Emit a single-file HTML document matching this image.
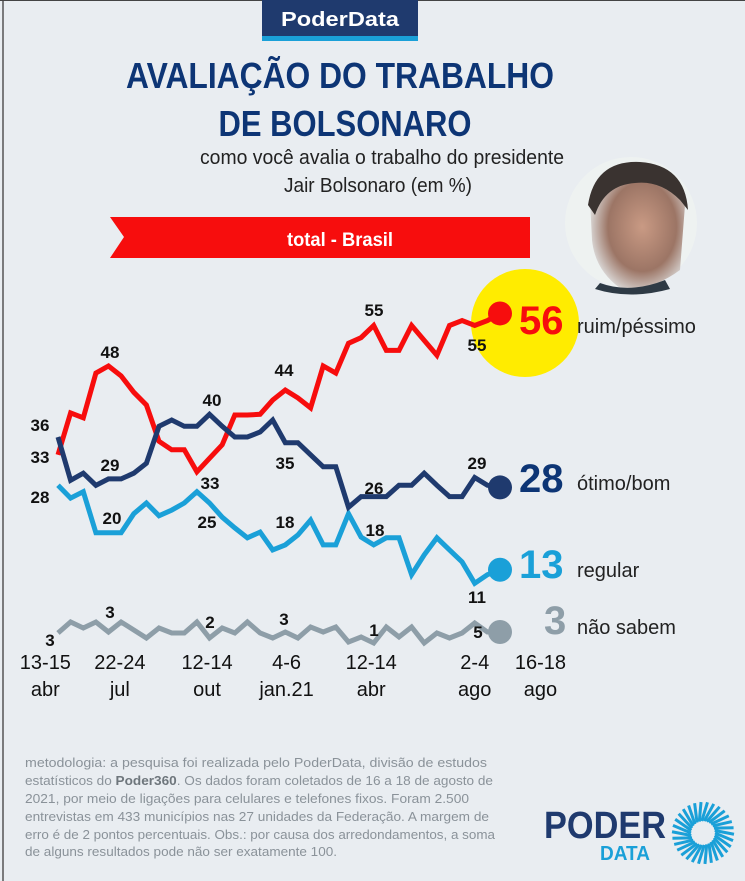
<!DOCTYPE html>
<html><head><meta charset="utf-8"><style>
html,body{margin:0;padding:0;background:#e9edf1;}
svg{display:block;}
text{font-family:"Liberation Sans",sans-serif;}
</style></head><body>
<svg id="chart" width="745" height="881" viewBox="0 0 745 881" xmlns="http://www.w3.org/2000/svg">
<rect x="0" y="0" width="745" height="881" fill="#e9edf1"/>
<line x1="3" y1="0" x2="3" y2="881" stroke="#555" stroke-width="1.5"/>
<line x1="0" y1="0.5" x2="745" y2="0.5" stroke="#444" stroke-width="1"/>
<g>
<rect x="262" y="0" width="156" height="37" fill="#1f3a6e"/>
<rect x="262" y="36" width="156" height="5" fill="#1aa0d8"/>
<text x="340" y="26" text-anchor="middle" font-size="20" font-weight="bold" fill="#fff" textLength="118" lengthAdjust="spacingAndGlyphs">PoderData</text>
</g>
<text x="340" y="88" text-anchor="middle" font-size="36" font-weight="bold" fill="#0d3575" textLength="428" lengthAdjust="spacingAndGlyphs">AVALIAÇÃO DO TRABALHO</text>
<text x="345" y="136" text-anchor="middle" font-size="36" font-weight="bold" fill="#0d3575" textLength="253" lengthAdjust="spacingAndGlyphs">DE BOLSONARO</text>
<text x="382" y="164" text-anchor="middle" font-size="20" fill="#222" textLength="364" lengthAdjust="spacingAndGlyphs">como você avalia o trabalho do presidente</text>
<text x="378" y="192" text-anchor="middle" font-size="20" fill="#222" textLength="188" lengthAdjust="spacingAndGlyphs">Jair Bolsonaro (em %)</text>
<g>
<polygon points="110,217 530,217 530,258 110,258 124,237" fill="#f70d0d"/>
<text x="340" y="246" text-anchor="middle" font-size="19" font-weight="bold" fill="#fff" textLength="106" lengthAdjust="spacingAndGlyphs">total - Brasil</text>
</g>
<g>
<defs><radialGradient id="face" cx="0.55" cy="0.5" r="0.6"><stop offset="0" stop-color="#c99a84"/><stop offset="0.6" stop-color="#9c7565"/><stop offset="1" stop-color="#e8eef0"/></radialGradient></defs>
<circle cx="631" cy="223" r="66" fill="#eef2f1"/>
<path d="M590 200 Q600 165 640 165 Q680 170 685 205 L680 270 Q650 292 620 288 Q595 270 592 240 Z" fill="url(#face)"/>
<path d="M588 205 Q595 160 640 162 Q685 165 688 210 L680 200 Q660 180 635 183 Q605 185 595 215 Z" fill="#3a3330"/>
<path d="M600 283 Q630 294 665 280 L670 289 Q630 300 595 289 Z" fill="#2e3a45"/>
</g>
<circle cx="525" cy="323" r="54" fill="#ffec00"/>
<g id="lines"></g>
<g font-size="17" font-weight="bold" fill="#111" text-anchor="middle">
<text x="40" y="431">36</text><text x="40" y="463">33</text><text x="40" y="503">28</text>
<text x="110" y="358">48</text><text x="110" y="471">29</text><text x="112" y="524">20</text>
<text x="212" y="406">40</text><text x="210" y="489">33</text><text x="207" y="528">25</text>
<text x="284" y="376">44</text><text x="285" y="469">35</text><text x="285" y="528">18</text>
<text x="374" y="316">55</text><text x="477" y="351">55</text><text x="374" y="494">26</text>
<text x="375" y="536">18</text><text x="477" y="469">29</text><text x="477" y="603">11</text>
<text x="50" y="646">3</text><text x="110" y="618">3</text><text x="210" y="628">2</text>
<text x="284" y="625">3</text><text x="374" y="636">1</text><text x="478" y="638">5</text>
</g>
<g>
<text x="519" y="334" font-size="40" font-weight="bold" fill="#f70d0d">56</text>
<text x="577" y="333" font-size="20" fill="#222">ruim/péssimo</text>
<text x="519" y="492" font-size="40" font-weight="bold" fill="#0d3575">28</text>
<text x="577" y="490" font-size="20" fill="#222">ótimo/bom</text>
<text x="519" y="578" font-size="40" font-weight="bold" fill="#1aa0d8">13</text>
<text x="577" y="577" font-size="20" fill="#222">regular</text>
<text x="544" y="634" font-size="40" font-weight="bold" fill="#8e9ea8">3</text>
<text x="577" y="634" font-size="20" fill="#222">não sabem</text>
</g>
<g id="xaxis" font-size="20" fill="#111" text-anchor="middle"></g>
<g font-size="13" fill="#8a9299">
<text x="25" y="767" textLength="462" lengthAdjust="spacingAndGlyphs">metodologia: a pesquisa foi realizada pelo PoderData, divisão de estudos</text>
<text x="25" y="785" textLength="468" lengthAdjust="spacingAndGlyphs">estatísticos do <tspan font-weight="bold" fill="#6e767c">Poder360</tspan>. Os dados foram coletados de 16 a 18 de agosto de</text>
<text x="25" y="803" textLength="444" lengthAdjust="spacingAndGlyphs">2021, por meio de ligações para celulares e telefones fixos. Foram 2.500</text>
<text x="25" y="821" textLength="464" lengthAdjust="spacingAndGlyphs">entrevistas em 433 municípios nas 27 unidades da Federação. A margem de</text>
<text x="25" y="839" textLength="470" lengthAdjust="spacingAndGlyphs">erro é de 2 pontos percentuais. Obs.: por causa dos arredondamentos, a soma</text>
<text x="25" y="856" textLength="312" lengthAdjust="spacingAndGlyphs">de alguns resultados pode não ser exatamente 100.</text>
</g>
<g>
<text x="544" y="838" font-size="38" font-weight="bold" fill="#1f3a6e" textLength="122" lengthAdjust="spacingAndGlyphs">PODER</text>
<text x="600" y="860" font-size="20" font-weight="bold" fill="#1aa0d8" textLength="50" lengthAdjust="spacingAndGlyphs">DATA</text>
<g id="sun"></g>
</g>
</svg>
<script>
// Data
const periods = 36;
const ruim = [35.5,41.4,40.7,47,48,46.6,44.3,42.5,37.4,36.2,36.2,33.1,35,36.9,41.1,41.1,41.2,43.2,44.6,43.5,42.1,48,47,51.2,52,53.7,50.2,50.2,53.7,51.6,49.5,53.7,54.4,53.7,54.4,55.4];
const otimo = [38,31.9,32.9,31.2,32.1,32.1,32.9,34.3,39.5,40.4,39.5,39.5,41.2,39.5,38,38,38.7,40.4,37.2,37.2,35.5,33.8,33.8,28.1,29.6,29.6,29.6,31.2,31.2,32.9,31.2,29.6,29.6,32.3,31.2,30.9];
const regular = [31.2,29.4,30.3,24.5,24.5,24.5,27.2,28.7,26.9,27.7,28.7,30.3,28.7,26.7,25.2,23.8,24.6,22.1,22.8,24.2,26.3,22.8,22.8,27.2,23.9,22.8,23.8,23.8,18.6,21.4,23.8,22.1,20.4,17.4,18.6,19.3];
const naoSabem = [3,5.2,4,5.2,3.2,5.2,3.6,2,4,3,3,5.2,2,4,3,5.2,3,2,3.2,2,4.2,3.2,4.2,1.2,2.2,1,4.2,2.2,4.2,1,3,2,3,5,3.2,3.2];
const tickTop = ["13-15","22-24","12-14","4-6","12-14","2-4","16-18"];
const tickBottom = ["abr","jul","out","jan.21","abr","ago","ago"];
const tickIndex = [-1,4.9,11.8,18.1,24.8,33,38.2];

function xScale(i){ return 58 + i*(442/(periods-1)); }
function yMain(v){ return 706.8 - 7.1*v; }
function yGrey(v){ return 648 - 5*v; }

const NS="http://www.w3.org/2000/svg";
const g=document.getElementById('lines');
function drawSeries(vals, yf, color, name){
  const p=document.createElementNS(NS,'polyline');
  p.setAttribute('points', vals.map((v,i)=>xScale(i).toFixed(1)+','+yf(v).toFixed(1)).join(' '));
  p.setAttribute('fill','none');
  p.setAttribute('stroke',color);
  p.setAttribute('stroke-width','5');
  p.setAttribute('stroke-linejoin','miter');
  
  
  g.appendChild(p);
  const last=vals.length-1;
  const c=document.createElementNS(NS,'circle');
  c.setAttribute('cx',xScale(last)); c.setAttribute('cy',yf(vals[last])); c.setAttribute('r','12'); c.setAttribute('fill',color);
  
  
  g.appendChild(c);
}
drawSeries(naoSabem, yGrey, '#8e9ea8', 'nao-sabem');
drawSeries(regular, yMain, '#1aa0d8', 'regular');
drawSeries(ruim, yMain, '#f70d0d', 'ruim-pessimo');
drawSeries(otimo, yMain, '#1f3a6e', 'otimo-bom');

const xa=document.getElementById('xaxis');
tickTop.forEach((t,k)=>{
  const x=xScale(tickIndex[k]);
  [[t,669],[tickBottom[k],696]].forEach(([s,y])=>{
    const tx=document.createElementNS(NS,'text');
    tx.setAttribute('x',x); tx.setAttribute('y',y); tx.textContent=s;
    
    
    xa.appendChild(tx);
  });
});

const sun=document.getElementById('sun');
for(let a=0;a<360;a+=12){
  const r=a*Math.PI/180, cx=703, cy=833;
  const l=document.createElementNS(NS,'line');
  l.setAttribute('x1',cx+12*Math.cos(r)); l.setAttribute('y1',cy+12*Math.sin(r));
  l.setAttribute('x2',cx+31*Math.cos(r+0.25)); l.setAttribute('y2',cy+31*Math.sin(r+0.25));
  l.setAttribute('stroke','#1aa0d8'); l.setAttribute('stroke-width','3');
  
  
  sun.appendChild(l);
}
</script>
</body></html>
